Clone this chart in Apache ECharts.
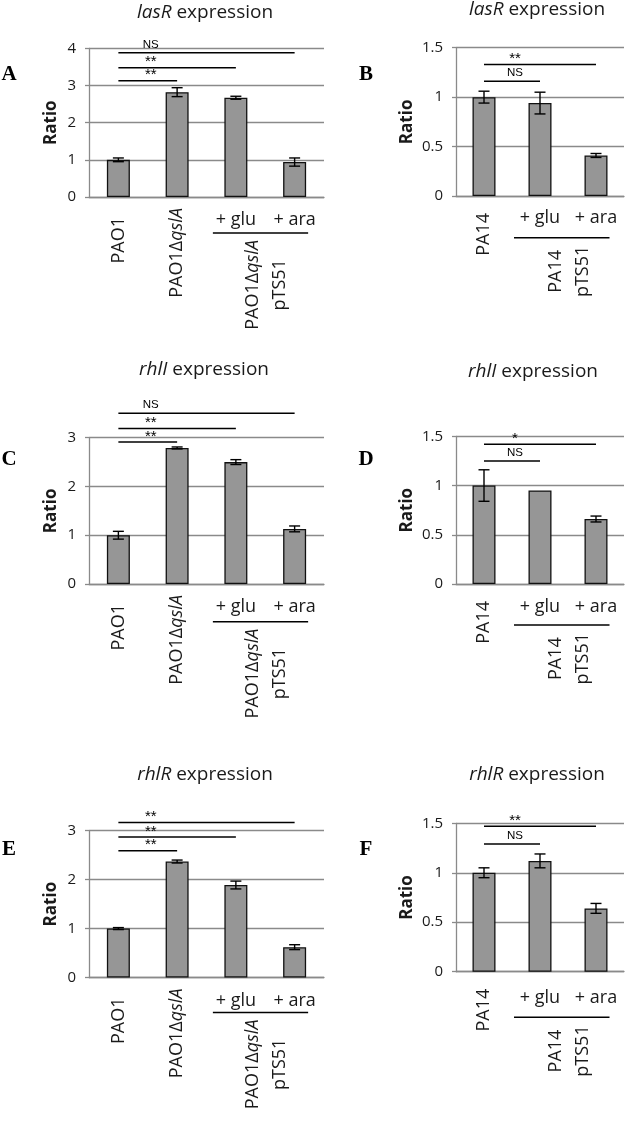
<!DOCTYPE html>
<html><head><meta charset="utf-8">
<script src="https://cdn.jsdelivr.net/npm/echarts@6/dist/echarts.min.js"></script>
<style>html,body{margin:0;padding:0;background:#fff}#c{width:625px;height:1121px}</style>
</head><body><div id="c"></div>
<script>
// ---------- data ----------
const catsLeft = ['PAO1', 'PAO1ΔqslA', '+ glu', '+ ara'];
const catsRight = ['PA14', '+ glu', '+ ara'];
const genes = ['lasR', 'lasR', 'rhlI', 'rhlI', 'rhlR', 'rhlR'];
const panelLetters = ['A', 'B', 'C', 'D', 'E', 'F'];

const valsA = [1.00, 2.82, 2.67, 0.94];
const errA  = [0.05, 0.12, 0.04, 0.11];
const valsB = [1.00, 0.94, 0.41];
const errB  = [0.06, 0.11, 0.02];
const valsC = [1.00, 2.79, 2.50, 1.13];
const errC  = [0.08, 0.02, 0.05, 0.06];
const valsD = [1.00, 0.95, 0.66];
const errD  = [0.16, 0.00, 0.03];
const valsE = [1.00, 2.37, 1.89, 0.62];
const errE  = [0.02, 0.03, 0.08, 0.05];
const valsF = [1.00, 1.12, 0.64];
const errF  = [0.05, 0.07, 0.05];

// significance brackets: from category 0 to category "to", at height y
const sigToA = [1, 2, 3], sigYA = [3.13, 3.48, 3.88], sigLabA = ['**', '**', 'NS'];
const sigToB = [1, 2],    sigYB = [1.16, 1.33],       sigLabB = ['NS', '**'];
const sigToC = [1, 2, 3], sigYC = [2.91, 3.19, 3.50], sigLabC = ['**', '**', 'NS'];
const sigToD = [1, 2],    sigYD = [1.25, 1.42],       sigLabD = ['NS', '*'];
const sigToE = [1, 2, 3], sigYE = [2.59, 2.87, 3.17], sigLabE = ['**', '**', '**'];
const sigToF = [1, 2],    sigYF = [1.29, 1.47],       sigLabF = ['NS', '**'];

const groupLeft = [2, 3];   // categories under "PAO1ΔqslA pTS51"
const groupRight = [1, 2];  // categories under "PA14 pTS51"

const yMaxLeftA = 4, yMaxLeftCE = 3, yMaxRight = 1.5;

// ---------- layout / style ----------
const FONT = '"Open Sans", "DejaVu Sans", sans-serif';
const TXT = '#1a1a1a';
const GRID_C = '#8a8a8a';
const mctx = document.createElement('canvas').getContext('2d');
function tw(s, size, style) { mctx.font = (style || '') + ' ' + size + 'px "Open Sans"'; return mctx.measureText(s).width; }

const panels = [
  {vals: valsA, err: errA, sigTo: sigToA, sigY: sigYA, sigLab: sigLabA, side: 'L', max: yMaxLeftA, interval: 1,
   left: 89, top: 48.3, width: 235, height: 148.7, titleX: 205, titleY: 13, letterY: 75, lineGap: 36, hLab: 23},
  {vals: valsB, err: errB, sigTo: sigToB, sigY: sigYB, sigLab: sigLabB, side: 'R', max: yMaxRight, interval: 0.5,
   left: 456, top: 47.7, width: 168, height: 148.3, titleX: 537, titleY: 10, letterY: 75, lineGap: 41.7, hLab: 22.3},
  {vals: valsC, err: errC, sigTo: sigToC, sigY: sigYC, sigLab: sigLabC, side: 'L', max: yMaxLeftCE, interval: 1,
   left: 89, top: 437.7, width: 235, height: 146.3, titleX: 204, titleY: 370, letterY: 460, lineGap: 37.7, hLab: 22.7},
  {vals: valsD, err: errD, sigTo: sigToD, sigY: sigYD, sigLab: sigLabD, side: 'R', max: yMaxRight, interval: 0.5,
   left: 456, top: 436.3, width: 168, height: 147.7, titleX: 533, titleY: 372, letterY: 460, lineGap: 41, hLab: 22.7},
  {vals: valsE, err: errE, sigTo: sigToE, sigY: sigYE, sigLab: sigLabE, side: 'L', max: yMaxLeftCE, interval: 1,
   left: 89, top: 830.7, width: 235, height: 146.8, titleX: 205, titleY: 775, letterY: 850, lineGap: 35, hLab: 23.2},
  {vals: valsF, err: errF, sigTo: sigToF, sigY: sigYF, sigLab: sigLabF, side: 'R', max: yMaxRight, interval: 0.5,
   left: 456, top: 823.3, width: 168, height: 148.4, titleX: 537, titleY: 775, letterY: 850, lineGap: 45.6, hLab: 26.6}
];

const LBL = 18;
function rf(extra) { return Object.assign({fontFamily: FONT, fontSize: LBL, color: TXT}, extra || {}); }

const grids = [], xAxes = [], yAxes = [], series = [], graphics = [];

panels.forEach((p, i) => {
  const L = p.side === 'L';
  const cats = L ? catsLeft : catsRight;
  grids.push({left: p.left, top: p.top, width: p.width, height: p.height, containLabel: false, outerBoundsMode: 'none'});

  // rotated labels (single strains)
  xAxes.push({
    type: 'category', gridIndex: i, data: cats, position: 'bottom',
    axisLine: {show: true, lineStyle: {color: GRID_C, width: 1.3}},
    axisTick: {show: false},
    axisLabel: {
      interval: 0, rotate: 90, margin: 11, hideOverlap: false,
      formatter: function (v, idx) {
        if (L) {
          if (idx === 0) return '{pad|PAO1}';
          if (idx === 1) return '{n|PAO1Δ}{i|qslA}';
          return '';
        }
        return idx === 0 ? '{padR|PA14}' : '';
      },
      rich: {
        pad: rf({padding: [0, 9, 0, 0]}),
        padR: rf({padding: [0, 6, 0, 0]}),
        n: rf(),
        i: rf({fontStyle: 'italic'})
      }
    }
  });
  // horizontal labels (+ glu / + ara)
  xAxes.push({
    type: 'category', gridIndex: i, data: cats, position: 'bottom',
    axisLine: {show: false}, axisTick: {show: false},
    axisLabel: {
      interval: 0, rotate: 0, margin: p.hLab - 9, hideOverlap: false,
      fontFamily: FONT, fontSize: LBL, color: TXT,
      formatter: function (v) { return v.charAt(0) === '+' ? v : ''; }
    }
  });
  yAxes.push({
    type: 'value', gridIndex: i, min: 0, max: p.max, interval: p.interval,
    name: 'Ratio', nameLocation: 'middle', nameGap: L ? 29 : 40,
    nameTextStyle: {fontFamily: FONT, fontSize: 17, fontWeight: 'bold', color: TXT},
    axisLine: {show: true, lineStyle: {color: GRID_C, width: 1.3}},
    axisTick: {show: true, inside: false, length: 4, lineStyle: {color: GRID_C, width: 1.3}},
    splitLine: {show: true, lineStyle: {color: GRID_C, width: 1.3}},
    axisLabel: {margin: 13, fontFamily: FONT, fontSize: 15, color: TXT}
  });

  const xi = 2 * i;
  series.push({
    type: 'bar', xAxisIndex: xi, yAxisIndex: i, data: p.vals, barWidth: 23,
    itemStyle: {color: '#969696', borderColor: '#111', borderWidth: 1.3}, z: 2
  });
  // error bars
  series.push({
    type: 'custom', xAxisIndex: xi, yAxisIndex: i, z: 4, clip: false,
    data: p.vals.map((v, k) => [k, v, p.err[k]]),
    encode: {x: 0, y: 1},
    renderItem: function (params, api) {
      const k = api.value(0), v = api.value(1), e = api.value(2);
      if (!e) return;
      const t = api.coord([k, v + e]), b = api.coord([k, v - e]);
      const w = 5.5, st = {stroke: '#000', lineWidth: 1.4};
      return {type: 'group', children: [
        {type: 'line', shape: {x1: t[0], y1: t[1], x2: b[0], y2: b[1]}, style: st},
        {type: 'line', shape: {x1: t[0] - w, y1: t[1], x2: t[0] + w, y2: t[1]}, style: st},
        {type: 'line', shape: {x1: b[0] - w, y1: b[1], x2: b[0] + w, y2: b[1]}, style: st}
      ]};
    }
  });
  // significance brackets
  series.push({
    type: 'custom', xAxisIndex: xi, yAxisIndex: i, z: 5, clip: false,
    data: p.sigTo.map((t, k) => [0, t, p.sigY[k]]),
    encode: {x: [0, 1], y: 2},
    renderItem: function (params, api) {
      const y = api.value(2);
      const a = api.coord([api.value(0), y]), b = api.coord([api.value(1), y]);
      const c1 = api.coord([1, y]);
      const lab = p.sigLab[params.dataIndex];
      const star = lab.charAt(0) === '*';
      const lx = (a[0] + c1[0]) / 2 + 3;
      return {type: 'group', children: [
        {type: 'line', shape: {x1: a[0], y1: a[1], x2: b[0], y2: b[1]}, style: {stroke: '#000', lineWidth: 1.5}},
        {type: 'text', x: lx, y: star ? a[1] + 2 : a[1] - 2,
         style: {text: lab, fill: '#000', fontFamily: '"Liberation Sans", Arial, sans-serif',
                 fontSize: star ? 15 : 11.5, align: 'center', verticalAlign: 'bottom'}}
      ]};
    }
  });
  // group underline + rotated group name
  const grp = L ? groupLeft : groupRight;
  const gText = L ? '{i|PAO1Δ}{j|qslA}\n{i|pTS51}' : '{i|PA14}\n{i|pTS51}';
  const gW = L ? tw('PAO1Δ', LBL) + tw('qslA', LBL, 'italic') : Math.max(tw('PA14', LBL), tw('pTS51', LBL));
  series.push({
    type: 'custom', xAxisIndex: xi, yAxisIndex: i, z: 5, clip: false,
    data: [[grp[0], grp[1], 0]],
    encode: {x: [0, 1], y: 2},
    renderItem: function (params, api) {
      const a = api.coord([api.value(0), 0]), b = api.coord([api.value(1), 0]);
      const y = a[1] + p.lineGap;
      const cx = (a[0] + b[0]) / 2 + 1;
      const extL = L ? 23 : 26, extR = 13.5;
      const gap = L ? 7 : 8;
      return {type: 'group', children: [
        {type: 'line', shape: {x1: a[0] - extL, y1: y, x2: b[0] + extR, y2: y}, style: {stroke: '#000', lineWidth: 1.4}},
        {type: 'text', x: cx, y: y + gap + gW / 2, rotation: Math.PI / 2,
         style: {text: gText, align: 'center', verticalAlign: 'middle',
                 rich: {
                   i: {fontFamily: FONT, fontSize: LBL, fill: TXT, lineHeight: 27, align: 'center'},
                   j: {fontFamily: FONT, fontSize: LBL, fill: TXT, lineHeight: 27, align: 'center', fontStyle: 'italic'}
                 }}}
      ]};
    }
  });

  // title and panel letter
  graphics.push({
    type: 'text', x: p.titleX, y: p.titleY,
    style: {text: '{i|' + genes[i] + '}{n| expression}', align: 'center', verticalAlign: 'middle',
            rich: {
              i: {fontFamily: FONT, fontSize: 19, fontStyle: 'italic', fill: TXT},
              n: {fontFamily: FONT, fontSize: 19, fill: TXT}
            }}
  });
  graphics.push({
    type: 'text', x: L ? 9 : 366, y: p.letterY,
    style: {text: panelLetters[i], align: 'center', verticalAlign: 'middle',
            fontFamily: '"Liberation Serif", "Times New Roman", serif', fontSize: 21, fontWeight: 'bold', fill: '#000'}
  });
});

const chart = echarts.init(document.getElementById('c'), null, {renderer: 'canvas'});
chart.setOption({
  backgroundColor: '#fff',
  animation: false,
  grid: grids,
  xAxis: xAxes,
  yAxis: yAxes,
  series: series,
  graphic: {elements: graphics}
});
</script>
</body></html>
